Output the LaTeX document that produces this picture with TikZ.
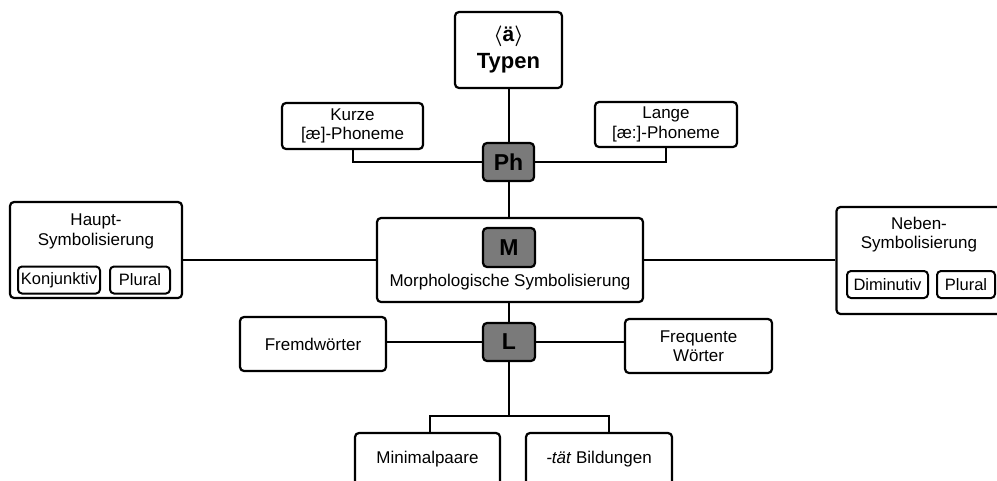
\documentclass[tikz,border=0pt]{standalone}
\usepackage{fontspec}
\setmainfont{Liberation Sans}
\usetikzlibrary{positioning}
\definecolor{hubgray}{RGB}{122,122,122}
\tikzset{
    card/.style={rectangle,draw,line width=2.2pt,rounded corners=4pt,fill=white,align=center,inner sep=2pt,font=\fontsize{17}{19.5}\selectfont},
    lbl/.style={align=center,inner sep=1pt,font=\fontsize{17}{19.5}\selectfont},
    hub/.style={rectangle,draw,line width=2.2pt,rounded corners=4pt,fill=hubgray,inner sep=0pt,font=\bfseries\fontsize{23}{26}\selectfont},
    tag/.style={rectangle,draw,line width=2pt,rounded corners=4pt,fill=white,inner sep=1pt,minimum height=27,font=\fontsize{16.5}{18}\selectfont},
    link/.style={line width=2pt},
}

\begin{document}
\begin{tikzpicture}[x=1pt,y=-1pt]
\useasboundingbox (0,0) rectangle (997,480);

\coordinate (splitL) at (430,416);
\coordinate (splitR) at (609,416);

% top
\node[card,minimum width=107,minimum height=76,font=\bfseries\fontsize{22}{27}\selectfont] (typen) at (508.5,50) {{\fontsize{21}{23}\selectfont\boldmath$\langle$ä$\rangle$}\\Typen};
\node[hub,minimum width=51,minimum height=38] (ph) at (508.5,162) {Ph};
\node[card,minimum width=141,minimum height=46] (kurze) at (352.5,126) {Kurze\\{[æ]}-Phoneme};
\node[card,minimum width=142,minimum height=45] (lange) at (666,124.5) {Lange\\{[æ:]}-Phoneme};

% middle
\node[card,minimum width=266,minimum height=84] (morph) at (510,260) {};
\node[hub,minimum width=52,minimum height=39] (m) at (509,247.5) {M};
\node[lbl] (morphlbl) at (510,282) {Morphologische Symbolisierung};

\node[card,minimum width=172,minimum height=96] (haupt) at (96,250) {};
\node[lbl,below=12pt of haupt.north] (hauptlbl) {Haupt-\\Symbolisierung};
\node[tag,minimum width=82] (konj) at (59,280) {Konjunktiv};
\node[tag,minimum width=60] (plurA) at (140,280) {Plural};

\node[card,minimum width=165,minimum height=107] (neben) at (919,260.5) {};
\node[lbl,below=10pt of neben.north] (nebenlbl) {Neben-\\Symbolisierung};
\node[tag,minimum width=81] (dimin) at (887.5,284.5) {Diminutiv};
\node[tag,minimum width=58] (plurB) at (966,284.5) {Plural};

% bottom
\node[hub,minimum width=52,minimum height=38] (lex) at (509,342) {L};
\node[card,minimum width=146,minimum height=54] (fremd) at (313,344) {Fremdwörter};
\node[card,minimum width=147,minimum height=54] (freq) at (698.5,346) {Frequente\\Wörter};
\node[card,minimum width=145,minimum height=52] (minimal) at (427.5,459) {Minimalpaare};
\node[card,minimum width=146,minimum height=52] (taet) at (599,459) {\textit{-tät} Bildungen};

\draw[link] (typen) -- (ph);
\draw[link] (kurze.south) |- (ph.west);
\draw[link] (lange.south) |- (ph.east);
\draw[link] (ph.south) -- (ph.south |- morph.north);
\draw[link] (morph.west) -- (morph.west -| haupt.east);
\draw[link] (morph.east) -- (morph.east -| neben.west);
\draw[link] (lex.north |- morph.south) -- (lex.north);
\draw[link] (fremd.east |- lex.west) -- (lex.west);
\draw[link] (lex.east) -- (lex.east -| freq.west);
\draw[link] (lex.south) -- (lex.south |- splitL);
\draw[link] (splitL |- minimal.north) -- (splitL) -- (splitR) -- (splitR |- taet.north);
\end{tikzpicture}
\end{document}
